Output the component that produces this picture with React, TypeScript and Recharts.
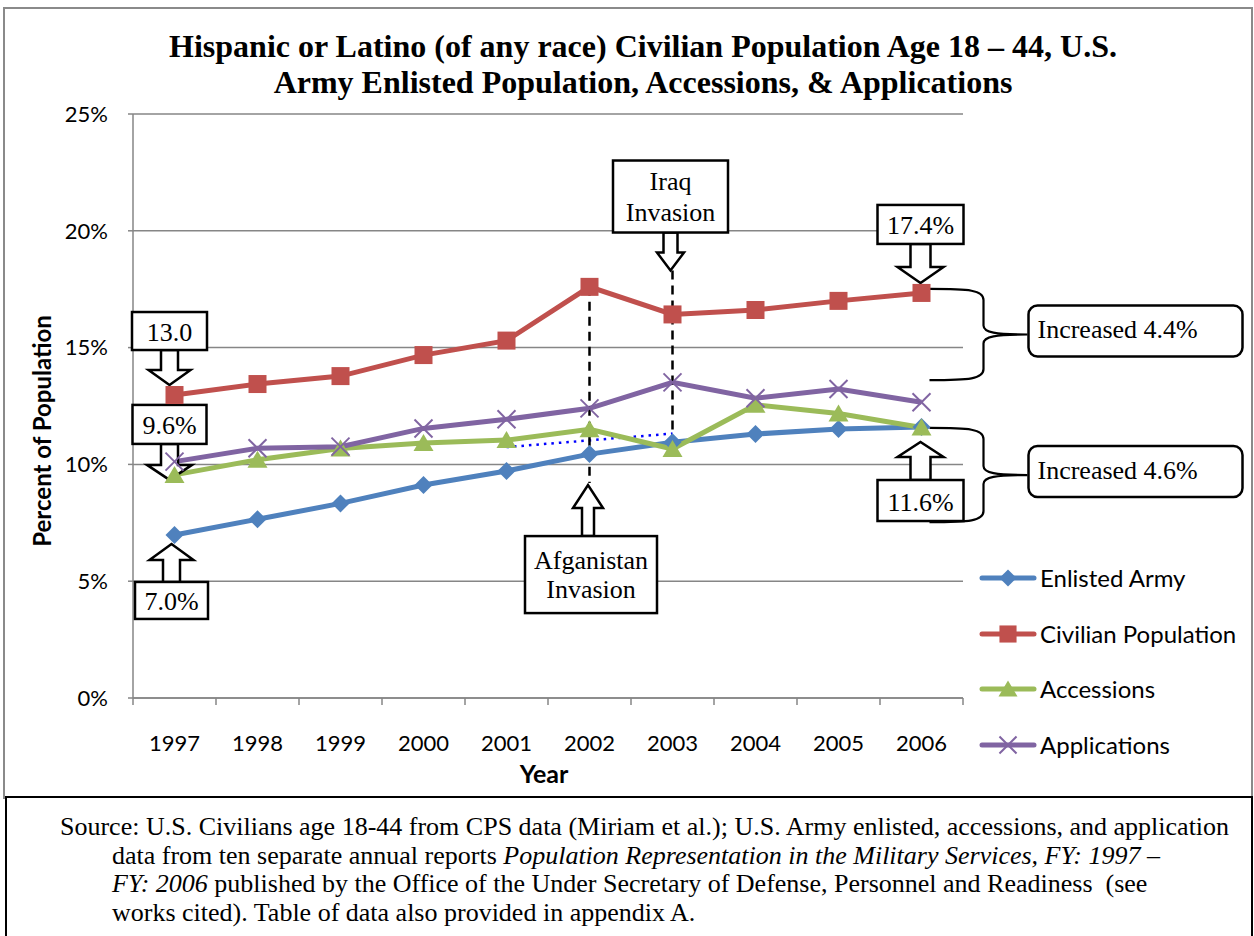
import React from 'react';
import {
  LineChart,
  Line,
  XAxis,
  YAxis,
  CartesianGrid,
  ReferenceLine,
  ReferenceDot,
  ReferenceArea,
  Legend,
  Label,
} from 'recharts';

// ---------------- data ----------------
const years = ['1997', '1998', '1999', '2000', '2001', '2002', '2003', '2004', '2005', '2006'];
const enlistedArmy = [6.98, 7.65, 8.33, 9.12, 9.72, 10.44, 10.95, 11.3, 11.52, 11.6];
const civilianPopulation = [12.97, 13.44, 13.78, 14.68, 15.3, 17.6, 16.42, 16.61, 17.0, 17.34];
const accessions = [9.55, 10.2, 10.68, 10.92, 11.04, 11.5, 10.66, 12.55, 12.18, 11.58];
const applications = [10.12, 10.69, 10.76, 11.54, 11.93, 12.4, 13.51, 12.83, 13.23, 12.66];
const trendValues = [null, null, null, null, 10.74, null, 11.32, null, null, null];
const yTicks = [0, 5, 10, 15, 20, 25];

const seriesKeys = ['enlisted', 'civilian', 'accessions', 'applications'];
const seriesNames = ['Enlisted Army', 'Civilian Population', 'Accessions', 'Applications'];

// event annotations (dashed lines)
const eventYears = ['2002', '2003'];
const eventLabels = [['Afganistan', 'Invasion'], ['Iraq', 'Invasion']];
const eventLineTop = [17.6, 18.3];
const eventLineBottom = [9.2, 10.66];

// brace annotations
const braceTop = [17.51, 11.56];
const braceBottom = [13.61, 7.53];
const braceTexts = ['Increased 4.4%', 'Increased 4.6%'];

const chartData = years.map((year, i) => ({
  year,
  enlisted: enlistedArmy[i],
  civilian: civilianPopulation[i],
  accessions: accessions[i],
  applications: applications[i],
  trend: trendValues[i],
}));

// ---------------- styles ----------------
const COLORS: Record<string, string> = {
  enlisted: '#4F81BD',
  civilian: '#C0504D',
  accessions: '#9BBB59',
  applications: '#8064A2',
};
const MARKERS: Record<string, string> = {
  enlisted: 'diamond',
  civilian: 'square',
  accessions: 'triangle',
  applications: 'x',
};
const SANS = "Lato, Carlito, 'Open Sans', sans-serif";
const SERIF = "'Liberation Serif', 'Times New Roman', serif";
const GRID = '#868686';

const CHART_W = 1254;
const CHART_H = 797;
const PLOT_LEFT = 133;
const PLOT_RIGHT = 963;
const PLOT_TOP = 114;
const PLOT_BOTTOM = 698;
const PLOT_W = PLOT_RIGHT - PLOT_LEFT;
const Y_AXIS_W = 70;
const X_AXIS_H = 50;

function Marker({ kind, cx, cy, color, scale = 1 }: any) {
  const s = scale;
  if (kind === 'diamond') {
    const h = 9 * s;
    return <path d={`M${cx} ${cy - h} L${cx + h} ${cy} L${cx} ${cy + h} L${cx - h} ${cy} Z`} fill={color} />;
  }
  if (kind === 'square') {
    const h = 9 * s;
    return <rect x={cx - h} y={cy - h} width={2 * h} height={2 * h} fill={color} />;
  }
  if (kind === 'triangle') {
    return (
      <path
        d={`M${cx} ${cy - 9 * s} L${cx + 10 * s} ${cy + 8 * s} L${cx - 10 * s} ${cy + 8 * s} Z`}
        fill={color}
      />
    );
  }
  const h = 9 * s;
  return (
    <g stroke={color} strokeWidth={2}>
      <line x1={cx - h} y1={cy - h} x2={cx + h} y2={cy + h} />
      <line x1={cx - h} y1={cy + h} x2={cx + h} y2={cy - h} />
    </g>
  );
}

const makeDot = (key: string) => (props: any) => {
  const { cx, cy, index } = props;
  if (cx == null || cy == null) return <g key={`d-${key}-${index}`} />;
  return (
    <g key={`d-${key}-${index}`}>
      <Marker kind={MARKERS[key]} cx={cx} cy={cy} color={COLORS[key]} />
    </g>
  );
};

// callout with box + block arrow
type CalloutSpec = {
  x: string;
  y: number;
  lines: string[];
  dir: 'up' | 'down';
  dx: number;
  dy: number;
  boxW: number;
  boxH: number;
  bdx?: number;
  shaftW: number;
  shaftL: number;
  headW: number;
  headL: number;
  lineH?: number;
};

const callouts: CalloutSpec[] = [
  { x: years[0], y: civilianPopulation[0], lines: ['13.0'], dir: 'down', dx: -5, dy: -10, boxW: 75, boxH: 38, shaftW: 17, shaftL: 20, headW: 42, headL: 15 },
  { x: years[0], y: accessions[0], lines: ['9.6%'], dir: 'down', dx: -5, dy: 5, boxW: 74, boxH: 39, shaftW: 17, shaftL: 21, headW: 45, headL: 15 },
  { x: years[0], y: enlistedArmy[0], lines: ['7.0%'], dir: 'up', dx: -3, dy: 9, boxW: 73, boxH: 37, shaftW: 17, shaftL: 22, headW: 44, headL: 16 },
  { x: eventYears[1], y: eventLineTop[1], lines: eventLabels[1], dir: 'down', dx: -2, dy: 0, boxW: 115, boxH: 72, shaftW: 14, shaftL: 20, headW: 27, headL: 18, lineH: 31 },
  { x: eventYears[0], y: eventLineBottom[0], lines: eventLabels[0], dir: 'up', dx: -1.5, dy: 2, boxW: 132, boxH: 77, bdx: 3, shaftW: 12, shaftL: 28, headW: 30, headL: 23, lineH: 29 },
  { x: years[9], y: civilianPopulation[9], lines: ['17.4%'], dir: 'down', dx: -1, dy: -10, boxW: 86, boxH: 39, shaftW: 20, shaftL: 23, headW: 46, headL: 16 },
  { x: years[9], y: enlistedArmy[9], lines: ['11.6%'], dir: 'up', dx: -1, dy: 15, boxW: 86, boxH: 41, shaftW: 20, shaftL: 23, headW: 46, headL: 15 },
];

const calloutShape = (spec: CalloutSpec) => (props: any) => {
  const { cx, cy } = props;
  if (cx == null || cy == null) return <g />;
  const tx = cx + spec.dx;
  const ty = cy + spec.dy;
  const s = spec.dir === 'down' ? -1 : 1;
  const hb = ty + s * spec.headL;
  const bb = hb + s * spec.shaftL;
  const boxTop = spec.dir === 'down' ? bb - spec.boxH : bb;
  const boxLeft = tx + (spec.bdx || 0) - spec.boxW / 2;
  const pts = [
    [tx - spec.shaftW / 2, bb],
    [tx - spec.shaftW / 2, hb],
    [tx - spec.headW / 2, hb],
    [tx, ty],
    [tx + spec.headW / 2, hb],
    [tx + spec.shaftW / 2, hb],
    [tx + spec.shaftW / 2, bb],
  ];
  const mid = boxTop + spec.boxH / 2;
  const n = spec.lines.length;
  const lh = spec.lineH || 30;
  return (
    <g>
      <polygon
        points={pts.map((p) => p.join(',')).join(' ')}
        fill="#fff"
        stroke="#000"
        strokeWidth={2.5}
      />
      <rect x={boxLeft} y={boxTop} width={spec.boxW} height={spec.boxH} fill="#fff" stroke="#000" strokeWidth={2.5} />
      {spec.lines.map((t, i) => (
        <text
          key={i}
          x={boxLeft + spec.boxW / 2}
          y={mid + (n === 1 ? 10 : 9) + (i - (n - 1) / 2) * lh}
          textAnchor="middle"
          fontFamily={SERIF}
          fontSize={26}
          fill="#000"
        >
          {t}
        </text>
      ))}
    </g>
  );
};

const braceShape = (label: string) => (props: any) => {
  const { x, y, width, height } = props;
  if (x == null || y == null) return <g />;
  const cx = x + width / 2;
  const yt = y;
  const yb = y + height;
  const ym = (yt + yb) / 2;
  const xs = cx + 8;
  const sp = cx + 62;
  const xt = cx + 106;
  const d =
    `M${xs} ${yt} C${sp - 14} ${yt} ${sp} ${yt + 1} ${sp} ${yt + 11} L${sp} ${ym - 9} ` +
    `C${sp} ${ym - 2} ${sp + 12} ${ym} ${xt} ${ym} ` +
    `M${xt} ${ym} C${sp + 12} ${ym} ${sp} ${ym + 2} ${sp} ${ym + 9} L${sp} ${yb - 11} ` +
    `C${sp} ${yb - 1} ${sp - 14} ${yb} ${xs} ${yb}`;
  return (
    <g>
      <path d={d} fill="none" stroke="#000" strokeWidth={2.2} />
      <rect x={xt + 1} y={ym - 29} width={214} height={51} rx={9} ry={9} fill="#fff" stroke="#000" strokeWidth={2.5} />
      <text x={xt + 10} y={ym + 3.5} fontFamily={SERIF} fontSize={26} fill="#000">
        {label}
      </text>
    </g>
  );
};

const XTick = (props: any) => {
  const { x, y, payload, index } = props;
  const bw = PLOT_W / years.length;
  const n = years.length;
  return (
    <g>
      <line x1={x - bw / 2} y1={y} x2={x - bw / 2} y2={y + 7} stroke={GRID} strokeWidth={1.5} />
      {index === n - 1 && <line x1={x + bw / 2} y1={y} x2={x + bw / 2} y2={y + 7} stroke={GRID} strokeWidth={1.5} />}
      <text x={x} y={y + 53} textAnchor="middle" fontFamily={SANS} fontSize={22} fill="#000">
        {payload.value}
      </text>
    </g>
  );
};

const YTitle = (props: any) => {
  const vb = props.viewBox || {};
  const cx = vb.x + 21 - 0;
  const cy = vb.y + vb.height / 2 + 25;
  return (
    <text
      x={cx - 42}
      y={cy}
      transform={`rotate(-90, ${cx - 42}, ${cy})`}
      textAnchor="middle"
      dy="0.36em"
      fontFamily={SANS}
      fontWeight="bold"
      fontSize={24}
      fill="#000"
    >
      Percent of Population
    </text>
  );
};

const renderLegend = (props: any) => {
  const payload = (props.payload || [])
    .filter((p: any) => p.type !== 'none' && seriesKeys.includes(p.dataKey))
    .sort((a: any, b: any) => seriesKeys.indexOf(a.dataKey) - seriesKeys.indexOf(b.dataKey));
  return (
    <div style={{ fontFamily: SANS, fontSize: 24, color: '#000' }}>
      {payload.map((p: any) => (
        <div key={p.dataKey} style={{ display: 'flex', alignItems: 'center', height: 55.7 }}>
          <svg width={62} height={26} style={{ display: 'block', flex: 'none' }}>
            <line x1={4} y1={13} x2={56} y2={13} stroke={COLORS[p.dataKey]} strokeWidth={5} strokeLinecap="round" />
            <Marker kind={MARKERS[p.dataKey]} cx={30} cy={13} color={COLORS[p.dataKey]} scale={0.95} />
          </svg>
          <span style={{ lineHeight: '26px', whiteSpace: 'nowrap' }}>{p.value}</span>
        </div>
      ))}
    </div>
  );
};

export default function App() {
  return (
    <div
      style={{
        position: 'absolute',
        left: 0,
        top: 0,
        width: 1254,
        height: 936,
        overflow: 'hidden',
        background: '#fff',
      }}
    >
      {/* chart frame */}
      <div
        style={{
          position: 'absolute',
          left: 3,
          top: 7,
          width: 1250,
          height: 792,
          border: '2px solid #8a8a8a',
          boxSizing: 'border-box',
        }}
      />
      {/* title */}
      <div
        style={{
          position: 'absolute',
          left: 143,
          top: 28,
          width: 1000,
          textAlign: 'center',
          fontFamily: SERIF,
          fontWeight: 'bold',
          fontSize: 32,
          lineHeight: '36px',
          color: '#000',
          whiteSpace: 'nowrap',
        }}
      >
        Hispanic or Latino (of any race) Civilian Population Age 18 – 44, U.S.
        <br />
        Army Enlisted Population, Accessions, &amp; Applications
      </div>
      <div style={{ position: 'absolute', left: 0, top: 0 }}>
        <LineChart
          width={CHART_W}
          height={CHART_H}
          data={chartData}
          margin={{
            top: PLOT_TOP,
            left: PLOT_LEFT - Y_AXIS_W,
            right: CHART_W - PLOT_RIGHT,
            bottom: CHART_H - PLOT_BOTTOM - X_AXIS_H,
          }}
        >
          <CartesianGrid vertical={false} stroke={GRID} strokeWidth={1.5} />
          <XAxis
            dataKey="year"
            scale="band"
            interval={0}
            height={X_AXIS_H}
            tickLine={false}
            tickSize={0}
            tickMargin={0}
            axisLine={{ stroke: GRID, strokeWidth: 1.5 }}
            tick={<XTick />}
          >
            <Label
              value="Year"
              position="bottom"
              offset={17}
              dx={-4}
              style={{ fontFamily: SANS, fontWeight: 'bold', fontSize: 25, fill: '#000' }}
            />
          </XAxis>
          <YAxis
            type="number"
            domain={[0, 25]}
            ticks={yTicks}
            interval={0}
            width={Y_AXIS_W}
            tickSize={5}
            tickMargin={20}
            tickFormatter={(v: number) => `${v}%`}
            tick={{ fill: '#000', fontSize: 22, fontFamily: SANS }}
            tickLine={{ stroke: GRID, strokeWidth: 1.5 }}
            axisLine={{ stroke: GRID, strokeWidth: 1.5 }}
          >
            <Label content={<YTitle />} />
          </YAxis>
          <Line
            dataKey="trend"
            stroke="#0000FF"
            strokeWidth={2.5}
            strokeDasharray="2.5 5"
            dot={false}
            activeDot={false}
            connectNulls
            legendType="none"
            isAnimationActive={false}
          />
          {seriesKeys.map((key, i) => (
            <Line
              key={key}
              dataKey={key}
              name={seriesNames[i]}
              stroke={COLORS[key]}
              strokeWidth={5}
              dot={makeDot(key)}
              activeDot={false}
              isAnimationActive={false}
            />
          ))}
          {eventYears.map((yr, i) => (
            <ReferenceLine
              key={`ev-${yr}`}
              segment={[
                { x: yr, y: eventLineTop[i] },
                { x: yr, y: eventLineBottom[i] },
              ]}
              stroke="#000"
              strokeWidth={2.5}
              strokeDasharray="9 6"
            />
          ))}
          {braceTexts.map((t, i) => (
            <ReferenceArea
              key={`br-${i}`}
              x1={years[years.length - 1]}
              x2={years[years.length - 1]}
              y1={braceBottom[i]}
              y2={braceTop[i]}
              ifOverflow="visible"
              shape={braceShape(t)}
            />
          ))}
          {callouts.map((c, i) => (
            <ReferenceDot key={`co-${i}`} x={c.x} y={c.y} r={1} ifOverflow="visible" shape={calloutShape(c)} />
          ))}
          <Legend
            layout="vertical"
            align="center"
            verticalAlign="middle"
            content={renderLegend}
            wrapperStyle={{ left: 978, top: 550, width: 272 }}
          />
        </LineChart>
      </div>
      {/* source box */}
      <div
        style={{
          position: 'absolute',
          left: 5,
          top: 796,
          width: 1248,
          height: 160,
          border: '2px solid #000',
          boxSizing: 'border-box',
          background: '#fff',
        }}
      />
      <div
        style={{
          position: 'absolute',
          left: 0,
          top: 813,
          width: 1254,
          fontFamily: SERIF,
          fontSize: 26,
          lineHeight: '28.7px',
          color: '#000',
          whiteSpace: 'nowrap',
        }}
      >
        <div style={{ paddingLeft: 60 }}>
          Source: U.S. Civilians age 18-44 from CPS data (Miriam et al.); U.S. Army enlisted, accessions, and application
        </div>
        <div style={{ paddingLeft: 112 }}>
          data from ten separate annual reports{' '}
          <i>Population Representation in the Military Services, FY: 1997 –</i>
        </div>
        <div style={{ paddingLeft: 112 }}>
          <i>FY: 2006</i> published by the Office of the Under Secretary of Defense, Personnel and Readiness&nbsp; (see
        </div>
        <div style={{ paddingLeft: 112 }}>works cited). Table of data also provided in appendix A.</div>
      </div>
    </div>
  );
}
